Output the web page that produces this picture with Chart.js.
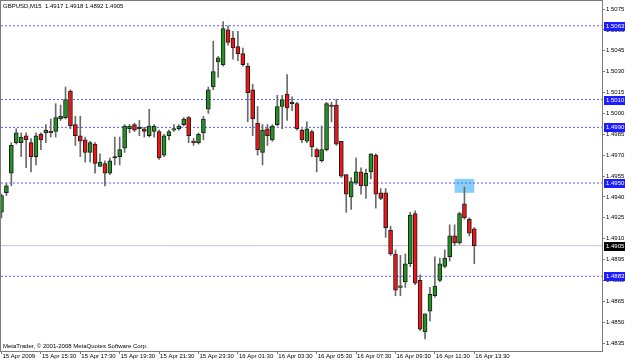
<!DOCTYPE html>
<html>
<head>
<meta charset="utf-8">
<script src="https://cdn.jsdelivr.net/npm/chart.js@4/dist/chart.umd.min.js"></script>
<style>
html, body { margin: 0; padding: 0; background: #fff; overflow: hidden; }
canvas { display: block; }
</style>
</head>
<body>
<canvas id="chart" width="625" height="361"></canvas>
<script>
// GBPUSD M15, 15 Apr 13:30 .. 16 Apr 13:30 (97 bars)
const opens = [
  1.4929,1.4943,1.4957,1.4979,1.4979,1.4984,1.4979,1.4969,1.4985,1.4986,
  1.4987,1.4987,1.4996,1.4997,1.5016,1.4992,1.4984,1.4981,1.4972,1.4978,
  1.4962,1.4964,1.4957,1.4968,1.4969,1.4975,1.4989,1.4992,1.4989,1.4989,
  1.4984,1.4987,1.4987,1.4970,1.4984,1.4988,1.4989,1.4992,1.4997,1.4980,
  1.4979,1.4986,1.5003,1.5019,1.5037,1.5035,1.5060,1.5054,1.5048,1.5043,
  1.5034,1.5017,1.4993,1.4972,1.4989,1.4981,1.4992,1.5005,1.5014,1.5007,
  1.5007,1.4988,1.4980,1.4987,1.4974,1.4966,1.4974,1.5006,1.5006,1.4980,
  1.4956,1.4940,1.4950,1.4958,1.4948,1.4958,1.4970,1.4943,1.4943,1.4916,
  1.4899,1.4875,1.4879,1.4892,1.4928,1.4880,1.4843,1.4858,1.4869,1.4880,
  1.4890,1.4897,1.4912,1.4907,1.4935,1.4924,1.4917
];
const highs = [
  1.4942,1.4950,1.4979,1.4989,1.4986,1.4986,1.4982,1.4986,1.4986,1.4992,
  1.4996,1.5007,1.5006,1.5019,1.5017,1.4998,1.4998,1.4983,1.4980,1.4979,
  1.4971,1.4966,1.4968,1.4983,1.4983,1.4992,1.4992,1.4993,1.4995,1.4990,
  1.5003,1.4992,1.4988,1.4985,1.4988,1.4992,1.4992,1.4997,1.4998,1.4982,
  1.4986,1.4998,1.5019,1.5052,1.5041,1.5066,1.5063,1.5059,1.5059,1.5047,
  1.5036,1.5021,1.5005,1.4992,1.4992,1.4992,1.5013,1.5013,1.5028,1.5012,
  1.5008,1.4989,1.4994,1.4988,1.4975,1.4991,1.5008,1.5008,1.5010,1.4980,
  1.4956,1.4954,1.4968,1.4961,1.4960,1.4971,1.4971,1.4946,1.4946,1.4919,
  1.4902,1.4898,1.4899,1.4929,1.4930,1.4884,1.4856,1.4875,1.4897,1.4896,
  1.4902,1.4920,1.4920,1.4929,1.4947,1.4925,1.4918
];
const lows = [
  1.4925,1.4941,1.4948,1.4978,1.4969,1.4961,1.4958,1.4963,1.4974,1.4979,
  1.4983,1.4983,1.4995,1.4996,1.4989,1.4977,1.4969,1.4965,1.4965,1.4957,
  1.4962,1.4948,1.4956,1.4963,1.4963,1.4972,1.4986,1.4987,1.4984,1.4983,
  1.4983,1.4983,1.4967,1.4969,1.4981,1.4987,1.4988,1.4991,1.4979,1.4977,
  1.4978,1.4981,1.5000,1.5017,1.5026,1.5034,1.5049,1.5039,1.5038,1.5034,
  1.4994,1.4984,1.4970,1.4963,1.4977,1.4980,1.4991,1.4989,1.4995,1.5002,
  1.4988,1.4979,1.4979,1.4969,1.4958,1.4965,1.4973,1.4994,1.4977,1.4954,
  1.4929,1.4931,1.4949,1.4942,1.4939,1.4953,1.4932,1.4938,1.4911,1.4898,
  1.4869,1.4869,1.4875,1.4890,1.4877,1.4844,1.4838,1.4851,1.4868,1.4879,
  1.4889,1.4894,1.4905,1.4906,1.4924,1.4912,1.4892
];
const closes = [
  1.4941,1.4948,1.4977,1.4986,1.4983,1.4981,1.4969,1.4984,1.4981,1.4988,
  1.4986,1.4997,1.4998,1.5010,1.4991,1.4984,1.4980,1.4972,1.4979,1.4964,
  1.4965,1.4957,1.4966,1.4968,1.4974,1.4991,1.4991,1.4988,1.4989,1.4987,
  1.4991,1.4991,1.4968,1.4984,1.4987,1.4989,1.4991,1.4996,1.4984,1.4979,
  1.4985,1.4996,1.5017,1.5030,1.5040,1.5061,1.5051,1.5047,1.5043,1.5035,
  1.5015,1.4996,1.4974,1.4988,1.4984,1.4991,1.5005,1.5010,1.5004,1.5007,
  1.4989,1.4981,1.4989,1.4976,1.4969,1.4974,1.5007,1.5005,1.4978,1.4955,
  1.4942,1.4951,1.4958,1.4948,1.4957,1.4971,1.4942,1.4939,1.4918,1.4899,
  1.4873,1.4876,1.4892,1.4927,1.4878,1.4845,1.4856,1.4870,1.4876,1.4892,
  1.4896,1.4912,1.4907,1.4928,1.4925,1.4914,1.4905
];

// time axis: one label every 8 bars (2 hours)
const labelBars = [0, 8, 16, 24, 32, 40, 48, 56, 64, 72, 80, 88, 96];
const timeLabels = [
  "15 Apr 2009", "15 Apr 15:30", "15 Apr 17:30", "15 Apr 19:30", "15 Apr 21:30",
  "15 Apr 23:30", "16 Apr 01:30", "16 Apr 03:30", "16 Apr 05:30", "16 Apr 07:30",
  "16 Apr 09:30", "16 Apr 11:30", "16 Apr 13:30"
];

// price scale ticks
const priceTicks = [1.4835, 1.4850, 1.4865, 1.4880, 1.4895, 1.4910, 1.4925, 1.4940,
  1.4955, 1.4970, 1.4985, 1.5000, 1.5015, 1.5030, 1.5045, 1.5060, 1.5075];

// horizontal objects
const levelPrices = [1.5063, 1.5010, 1.4990, 1.4950, 1.4883];
const bidPrice = 1.4905;
const boxBars = [92, 96];
const boxPrices = [1.4943, 1.4953];

const symbolTitle = "GBPUSD,M15";
const copyright = "MetaTrader, \u00a9 2001-2008 MetaQuotes Software Corp.";

const FONT = "'Liberation Sans'";
const FSIZE = 6;
Chart.defaults.font.family = FONT;
Chart.defaults.font.size = FSIZE;
Chart.defaults.color = "#000";

const barIdx = opens.map((_, i) => i);
const xMin = -0.1;
const xMax = 121.93;

function bodyColor(i) {
    if (closes[i] > opens[i]) return "#1f941f";
    if (closes[i] < opens[i]) return "#f01414";
    return "#222";
}

const levelSets = levelPrices.map(p => ({
    type: "line",
    data: [{ x: xMin, y: p }, { x: xMax, y: p }],
    borderColor: "#5a5aff",
    borderWidth: 1,
    borderDash: [2, 2],
    pointRadius: 0,
    order: 3
}));

const overlay = {
    id: "overlay",
    beforeDatasetsDraw(chart) {
        const { ctx, scales: { x, y } } = chart;
        const x0 = x.getPixelForValue(boxBars[0]);
        const x1 = x.getPixelForValue(boxBars[1]);
        const y0 = y.getPixelForValue(boxPrices[1]);
        const y1 = y.getPixelForValue(boxPrices[0]);
        ctx.save();
        ctx.fillStyle = "#87cefa";
        ctx.fillRect(x0, y0, x1 - x0, y1 - y0);
        ctx.restore();
    },
    afterDraw(chart) {
        const { ctx, chartArea: a, scales: { y } } = chart;
        ctx.save();
        // frame
        ctx.strokeStyle = "#7c7c7c";
        ctx.lineWidth = 1;
        ctx.strokeRect(a.left - 0.5, a.top - 0.5, a.right - a.left + 1, a.bottom - a.top + 1);

        ctx.font = FSIZE + "px " + FONT;
        ctx.textBaseline = "middle";
        ctx.fillStyle = "#000";
        const last = opens.length - 1;
        ctx.fillText(symbolTitle + "  " + [opens[last], highs[last], lows[last], closes[last]]
            .map(v => v.toFixed(4)).join(" "), 3, 6.5);
        ctx.fillText(copyright, 3, 346);

        // price tags on the right scale
        const tag = (p, bg) => {
            const py = Math.round(y.getPixelForValue(p));
            ctx.fillStyle = bg;
            ctx.fillRect(a.right + 2, py - 4, 625 - a.right - 2, 9);
            ctx.fillStyle = "#fff";
            ctx.fillText(p.toFixed(4), a.right + 4, py + 0.5);
        };
        levelPrices.forEach(p => tag(p, "#1c1cff"));
        tag(bidPrice, "#000");
        ctx.restore();
    }
};

new Chart(document.getElementById("chart"), {
    type: "bar",
    data: {
        datasets: [
            {
                // bodies
                data: barIdx.map(i => ({ x: i, y: [opens[i], closes[i]] })),
                backgroundColor: barIdx.map(bodyColor),
                borderColor: "#1e1e1e",
                borderWidth: 1,
                borderSkipped: false,
                barThickness: 4,
                minBarLength: 1.5,
                grouped: false,
                order: 1
            },
            {
                // wicks
                data: barIdx.map(i => ({ x: i, y: [lows[i], highs[i]] })),
                backgroundColor: "#6a6a6a",
                barThickness: 1,
                grouped: false,
                order: 2
            },
            {
                type: "line",
                data: [{ x: xMin, y: bidPrice }, { x: xMax, y: bidPrice }],
                borderColor: "#c2c2dc",
                borderWidth: 1,
                pointRadius: 0,
                order: 3
            },
            ...levelSets
        ]
    },
    options: {
        responsive: false,
        animation: false,
        devicePixelRatio: 1,
        layout: { padding: { top: 1, left: 1, right: 0, bottom: 0 } },
        plugins: { legend: { display: false }, tooltip: { enabled: false } },
        scales: {
            x: {
                type: "linear",
                offset: false,
                min: xMin,
                max: xMax,
                afterBuildTicks: s => { s.ticks = labelBars.map(v => ({ value: v })); },
                afterFit: s => {
                    s.height = 10;
                    s.paddingLeft = 0;
                    s.paddingRight = 0;
                },
                ticks: {
                    autoSkip: false,
                    maxRotation: 0,
                    align: "start",
                    padding: -1,
                    labelOffset: 1,
                    callback: v => timeLabels[labelBars.indexOf(v)]
                },
                grid: { offset: false, drawOnChartArea: false, tickLength: 3, color: "#7c7c7c" },
                border: { color: "#7c7c7c" }
            },
            y: {
                position: "right",
                min: 1.48293,
                max: 1.50808,
                afterBuildTicks: s => { s.ticks = priceTicks.map(v => ({ value: v })); },
                afterFit: s => {
                    s.width = 23;
                    s.paddingTop = 0;
                    s.paddingBottom = 0;
                },
                ticks: {
                    padding: 1,
                    callback: v => v.toFixed(4)
                },
                grid: { drawOnChartArea: false, tickLength: 3, color: "#7c7c7c" },
                border: { color: "#7c7c7c" }
            }
        }
    },
    plugins: [overlay]
});
</script>
</body>
</html>
